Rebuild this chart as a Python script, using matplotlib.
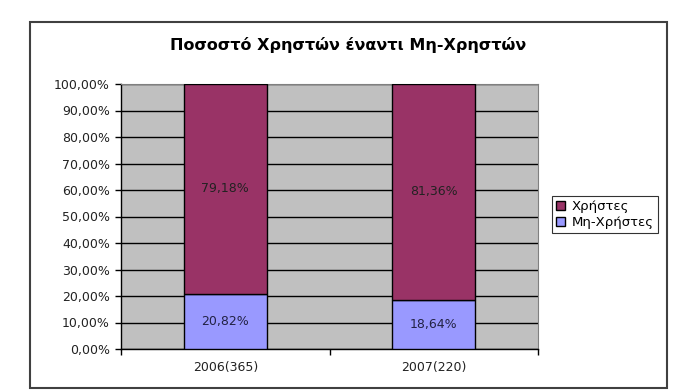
import numpy as np
import matplotlib.pyplot as plt
from matplotlib.patches import Rectangle
from matplotlib.ticker import FuncFormatter, FixedLocator

plt.rcParams['font.family'] = ['DejaVu Sans']

# Δεδομένα
categories = ['2006(365)', '2007(220)']
non_users = [20.82, 18.64]
users = [79.18, 81.36]
series_names = ['Χρήστες', 'Μη-Χρήστες']
title = 'Ποσοστό Χρηστών έναντι Μη-Χρηστών'

c_users = '#993366'
c_non = '#9999FF'

W, H = 679, 391
fig = plt.figure(figsize=(W / 100, H / 100), dpi=100)
fig.patch.set_facecolor('white')

# Εξωτερικό πλαίσιο
fig.patches.append(Rectangle((30 / W, 1 - 388 / H), (667 - 30) / W, (388 - 22) / H,
                             transform=fig.transFigure, fill=False,
                             edgecolor='#404040', linewidth=1.5))

ax = fig.add_axes([121 / W, 1 - 349 / H, (538 - 121) / W, (349 - 84) / H])
ax.set_facecolor('#C0C0C0')

x = np.arange(len(categories))
b1 = ax.bar(x, non_users, width=0.4, color=c_non, edgecolor='black', linewidth=1,
            label=series_names[1], zorder=3)
b2 = ax.bar(x, users, width=0.4, bottom=non_users, color=c_users, edgecolor='black',
            linewidth=1, label=series_names[0], zorder=3)

for i in range(len(categories)):
    ax.text(x[i], non_users[i] / 2, f'{non_users[i]:.2f}%'.replace('.', ','),
            ha='center', va='center', fontsize=9, color='#222244', zorder=4)
    ax.text(x[i], non_users[i] + users[i] / 2, f'{users[i]:.2f}%'.replace('.', ','),
            ha='center', va='center', fontsize=9, color='#222222', zorder=4)

ax.set_xlim(-0.5, 1.5)
ax.set_ylim(0, 100)
ax.set_yticks(np.arange(0, 101, 10))
ax.yaxis.set_major_formatter(FuncFormatter(lambda v, p: f'{v:.2f}%'.replace('.', ',')))
ax.yaxis.grid(True, color='black', linewidth=1, zorder=1)
ax.set_axisbelow(True)

ax.set_xticks(x)
ax.set_xticklabels(categories)
ax.xaxis.set_minor_locator(FixedLocator([-0.5, 0.5, 1.5]))
ax.tick_params(axis='x', which='major', length=0, labelsize=9, pad=9, labelcolor='#222222')
ax.tick_params(axis='x', which='minor', length=4, width=1)
ax.tick_params(axis='y', length=4, width=1, labelsize=9, pad=4, labelcolor='#222222')

for s in ['top', 'right']:
    ax.spines[s].set_color('#808080')
for s in ['left', 'bottom']:
    ax.spines[s].set_color('black')
    ax.spines[s].set_linewidth(1)

fig.text(0.5 * (30 + 667) / W, 1 - 45 / H, title, ha='center', va='center',
         fontsize=11.5, fontweight='bold')

handles = [b2, b1]
leg = fig.legend(handles, series_names, loc='upper left',
                 bbox_to_anchor=(552 / W, 1 - 196 / H), frameon=True, fancybox=False,
                 fontsize=9.5, handlelength=0.7, handleheight=0.7, handletextpad=0.5,
                 borderpad=0.3, labelspacing=0.25, borderaxespad=0)
leg.get_frame().set_edgecolor('black')
leg.get_frame().set_linewidth(0.8)

plt.savefig('out.png', dpi=100)
